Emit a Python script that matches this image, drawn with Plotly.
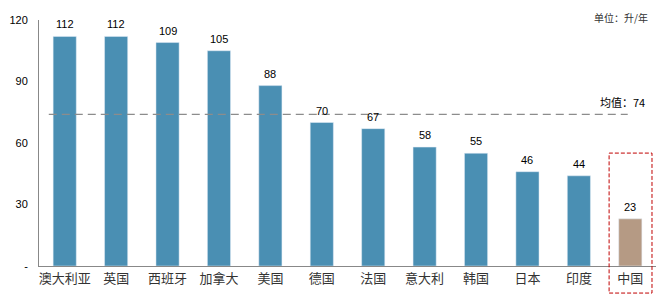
import plotly.graph_objects as go

countries = ["澳大利亚", "英国", "西班牙", "加拿大", "美国", "德国", "法国", "意大利", "韩国", "日本", "印度", "中国"]
values = [112, 112, 109, 105, 88, 70, 67, 58, 55, 46, 44, 23]
mean_value = 74
ytick_vals = [0, 30, 60, 90, 120]
ytick_text = ["-", "30", "60", "90", "120"]

colors = ["#4A8FB3"] * (len(values) - 1) + ["#B59A84"]

fig = go.Figure()
fig.add_trace(go.Bar(
    x=countries, y=values, marker_color=colors, width=0.45,
    cliponaxis=False, hoverinfo="skip",
))

for c, v in zip(countries, values):
    fig.add_annotation(x=c, y=v, text=str(v), showarrow=False, yanchor="bottom", yshift=4,
                       font=dict(family="Liberation Sans, Arial", size=11, color="#000"))

fig.add_shape(type="line", xref="x", yref="y", x0=-0.31, x1=10.95, y0=mean_value, y1=mean_value,
              line=dict(color="#8C8C8C", width=1.2, dash="8px,5px"))
fig.add_shape(type="rect", xref="paper", yref="paper", x0=0.924, x1=0.9935, y0=-0.11, y1=0.459,
              line=dict(color="#C00000", width=1, dash="4px,2px"), fillcolor="rgba(0,0,0,0)")

fig.add_annotation(xref="paper", yref="paper", x=0.985, y=0.665, text="均值：" + str(mean_value),
                   showarrow=False, xanchor="right", yanchor="middle",
                   font=dict(family="Noto Sans CJK SC, Liberation Sans", size=11, color="#000"))
fig.add_annotation(xref="paper", yref="paper", x=0.99, y=1.01, text="单位：升/年",
                   showarrow=False, xanchor="right", yanchor="middle",
                   font=dict(family="Noto Sans CJK SC", size=10, color="#333"))

fig.update_layout(
    width=658, height=299, margin=dict(l=39, r=2, t=20, b=33),
    plot_bgcolor="white", paper_bgcolor="white", showlegend=False, bargap=0.55,
    xaxis=dict(showline=True, linecolor="#888", linewidth=1, ticks="", showgrid=False,
               tickfont=dict(family="Noto Sans CJK SC", size=13, color="#333")),
    yaxis=dict(range=[0, 120], tickvals=ytick_vals, ticktext=ytick_text, showline=True,
               linecolor="#888", linewidth=1, showgrid=False, zeroline=False, ticks="",
               ticklabelstandoff=8,
               tickfont=dict(family="Liberation Sans, Arial", size=11, color="#000")),
)
fig.write_html("out.html")
